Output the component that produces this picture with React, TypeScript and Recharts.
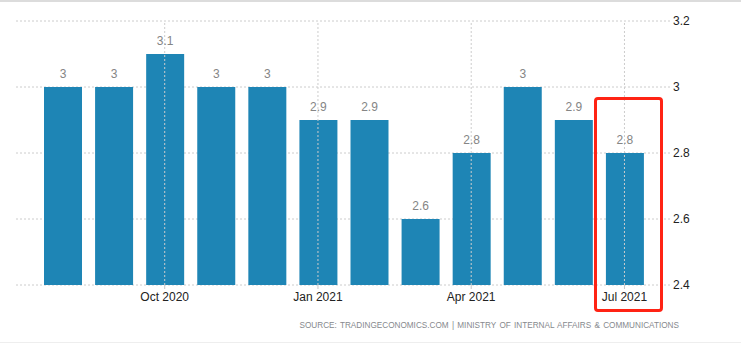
import React from 'react';
import { BarChart, Bar, XAxis, YAxis, CartesianGrid, ReferenceLine, LabelList } from 'recharts';

const months = [
  'Aug 2020', 'Sep 2020', 'Oct 2020', 'Nov 2020', 'Dec 2020', 'Jan 2021',
  'Feb 2021', 'Mar 2021', 'Apr 2021', 'May 2021', 'Jun 2021', 'Jul 2021',
];
const rates = [3, 3, 3.1, 3, 3, 2.9, 2.9, 2.6, 2.8, 3, 2.9, 2.8];
const labeledMonths = ['Oct 2020', 'Jan 2021', 'Apr 2021', 'Jul 2021'];
const yTicks = [2.4, 2.6, 2.8, 3, 3.2];

const data = months.map((month, i) => ({ month, rate: rates[i] }));

const font = '"Liberation Sans", Arial, sans-serif';

const MonthTick = (props: any) => {
  const { x, y, payload } = props;
  if (!labeledMonths.includes(payload.value)) return <g />;
  return (
    <g>
      <line x1={x} x2={x} y1={y} y2={y + 4} stroke="#c8c8c8" />
      <text x={x} y={y + 16} textAnchor="middle" fontSize={12} fontFamily={font} fill="#222">
        {payload.value}
      </text>
    </g>
  );
};

const App: React.FC = () => {
  return (
    <div style={{ position: 'absolute', left: 0, top: 0, width: 741, height: 361, background: '#fff', overflow: 'hidden' }}>
      <div style={{ position: 'absolute', left: 0, top: 0, width: 741, height: 2, background: '#dcdcdc' }} />
      <BarChart width={741} height={361} data={data} margin={{ top: 21, right: 0, left: 16, bottom: 46 }}>
        <CartesianGrid vertical={false} stroke="#cccccc" strokeDasharray="2 2" />
        {labeledMonths.map((m) => (
          <ReferenceLine key={m} x={m} stroke="#cccccc" strokeDasharray="2 2" />
        ))}
        <XAxis
          dataKey="month"
          interval={0}
          axisLine={false}
          tickLine={false}
          tickSize={0}
          tickMargin={0}
          height={30}
          padding={{ left: 21, right: 21 }}
          tick={MonthTick}
        />
        <YAxis
          orientation="right"
          width={70}
          domain={[2.4, 3.2]}
          ticks={yTicks}
          axisLine={false}
          tickLine={false}
          tickSize={0}
          tickMargin={2}
          tick={{ fontSize: 12, fontFamily: font, fill: '#222', textAnchor: 'start' }}
        />
        <Bar dataKey="rate" fill="#1e85b5" barSize={38} isAnimationActive={false}>
          <LabelList dataKey="rate" position="top" offset={9} fill="#858585" fontSize={12} fontFamily={font} />
        </Bar>
      </BarChart>
      <div
        style={{
          position: 'absolute', left: 594, top: 97, width: 69, height: 215,
          border: '3px solid #ff2314', borderRadius: 4, boxSizing: 'border-box',
        }}
      />
      <div
        style={{
          position: 'absolute', right: 62, top: 321, fontSize: 8.2, fontFamily: font,
          color: '#86898d', whiteSpace: 'nowrap', wordSpacing: 1,
        }}
      >
        SOURCE: TRADINGECONOMICS.COM | MINISTRY OF INTERNAL AFFAIRS &amp; COMMUNICATIONS
      </div>
      <div style={{ position: 'absolute', left: 0, top: 342, width: 741, height: 1, background: '#eeeeee' }} />
    </div>
  );
};

export default App;
